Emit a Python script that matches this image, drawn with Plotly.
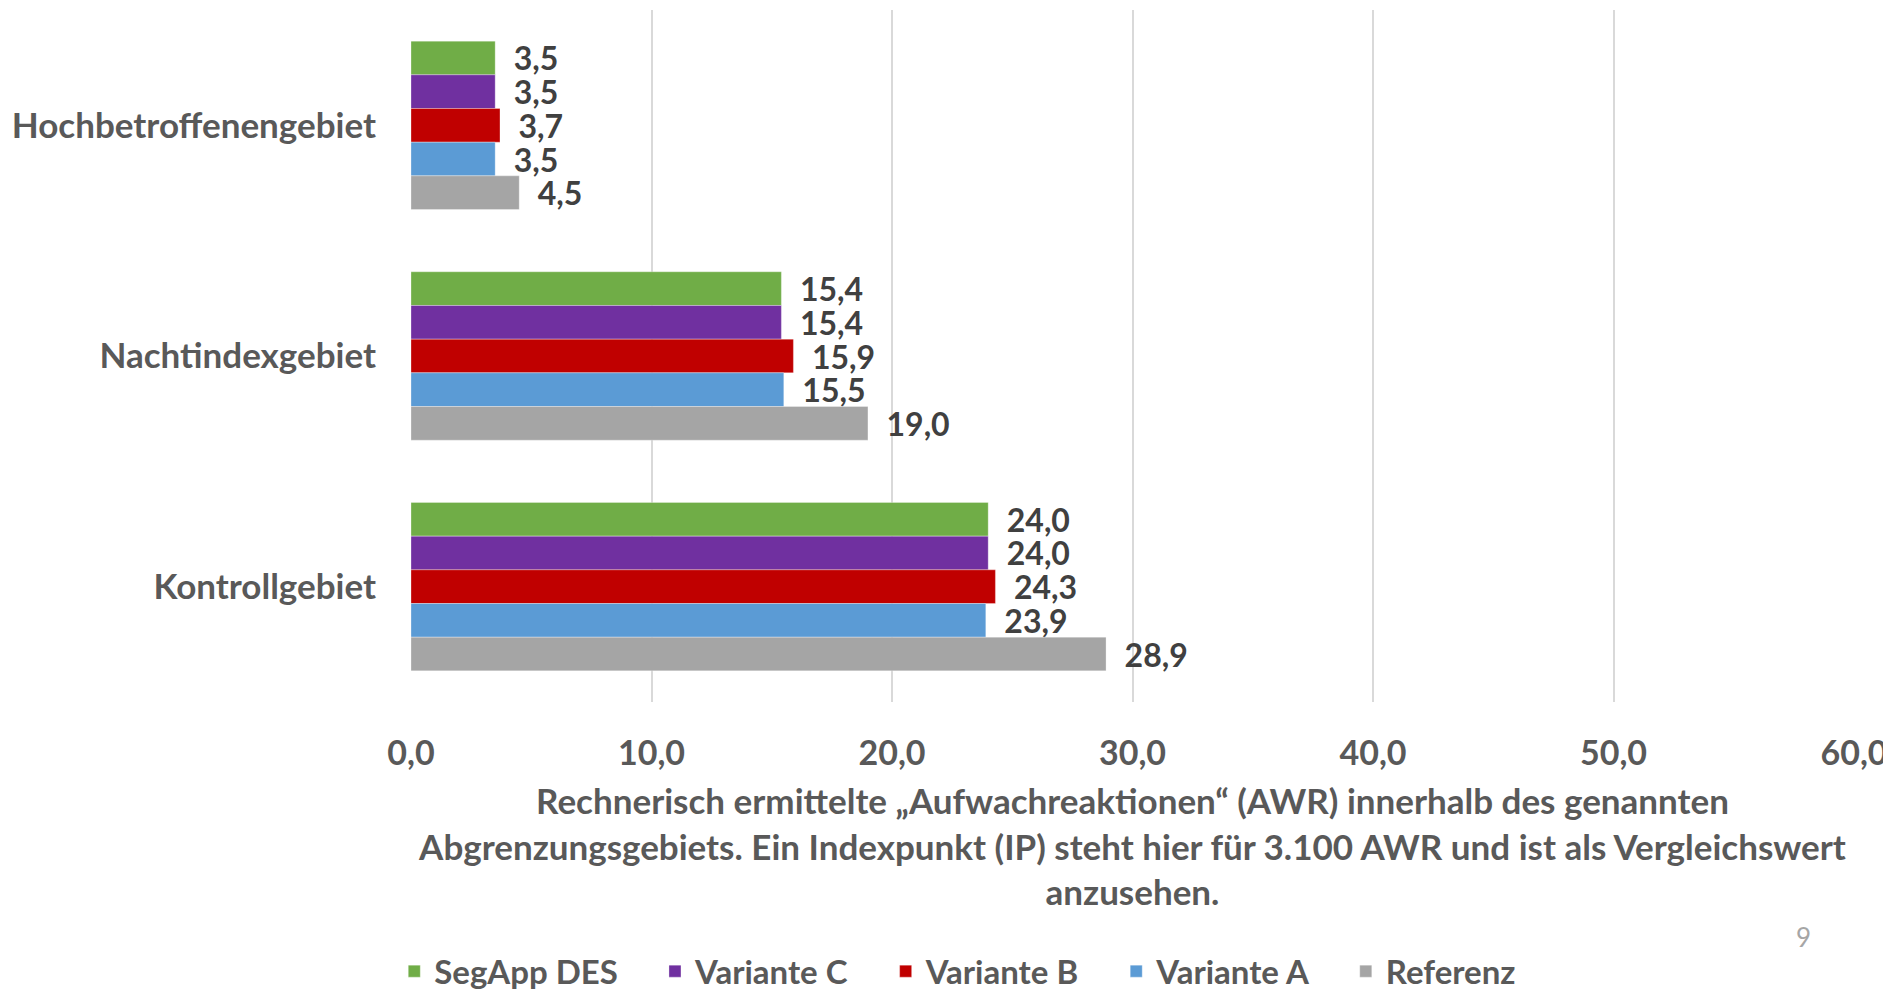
import plotly.graph_objects as go

categories = ["Hochbetroffenengebiet", "Nachtindexgebiet", "Kontrollgebiet"]
series_names = ["SegApp DES", "Variante C", "Variante B", "Variante A", "Referenz"]
segapp_des = [3.5, 15.4, 24.0]
variante_c = [3.5, 15.4, 24.0]
variante_b = [3.7, 15.9, 24.3]
variante_a = [3.5, 15.5, 23.9]
referenz = [4.5, 19.0, 28.9]
x_ticks = [0, 10, 20, 30, 40, 50, 60]

series_values = [segapp_des, variante_c, variante_b, variante_a, referenz]
colors = ["#70ad47", "#7030a0", "#c00000", "#5b9bd5", "#a5a5a5"]

FONT = "Lato"
PAD = "\u00a0" * 4
fig = go.Figure()
for name, vals, col in zip(series_names, series_values, colors):
    fig.add_trace(go.Bar(
        y=categories, x=vals, name=name + PAD, orientation="h",
        marker=dict(color=col, line=dict(color="rgba(255,255,255,0.6)", width=0.5)),
        texttemplate="  %{x:.1f}", textposition="outside",
        textfont=dict(family=FONT, size=32, color="#404040", weight="bold"),
        constraintext="none", cliponaxis=False,
        hovertemplate=name + ": %{x:.1f}<extra></extra>",
    ))

fig.update_layout(
    barmode="group", bargap=0.27, bargroupgap=0,
    separators=",.",
    width=1883, height=986,
    plot_bgcolor="white", paper_bgcolor="white",
    margin=dict(l=403, r=37, t=2, b=292, autoexpand=False),
    font=dict(family=FONT, color="#595959", weight="bold"),
    xaxis=dict(
        range=[0, 60], tickvals=x_ticks, tickformat=".1f",
        showgrid=True, gridcolor="#d9d9d9", gridwidth=1.5,
        zeroline=False, showline=False, automargin=False,
        tickfont=dict(family=FONT, size=34, color="#595959", weight="bold"),
        ticklabelstandoff=28,
        title=dict(
            text="Rechnerisch ermittelte „Aufwachreaktionen“ (AWR) innerhalb des genannten<br>"
                 "Abgrenzungsgebiets. Ein Indexpunkt (IP) steht hier für 3.100 AWR und ist als Vergleichswert<br>"
                 "anzusehen.",
            font=dict(family=FONT, size=35, color="#595959", weight="bold"),
            standoff=18,
        ),
    ),
    yaxis=dict(
        autorange="reversed", categoryorder="array", categoryarray=categories,
        showgrid=False, zeroline=False, showline=False, automargin=False,
        tickfont=dict(family=FONT, size=35, color="#595959", weight="bold"),
        ticklabelstandoff=34,
    ),
    legend=dict(
        orientation="h", x=0.39, xanchor="center", y=-0.389, yanchor="middle",
        font=dict(family=FONT, size=33, color="#595959", weight="bold"),
        traceorder="normal", itemwidth=30,
    ),
    annotations=[dict(
        text="9", xref="paper", yref="paper", x=0.9647, y=-0.340,
        xanchor="center", yanchor="middle", showarrow=False,
        font=dict(family=FONT, size=26, color="#a6a6a6", weight="normal"),
    )],
)

fig.write_html("out.html")
